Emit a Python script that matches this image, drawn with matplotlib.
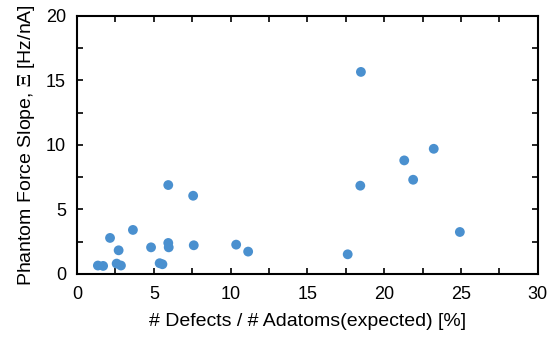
import matplotlib
matplotlib.use("Agg")
import matplotlib.pyplot as plt
import numpy as np

plt.rcParams['font.family'] = ['Liberation Sans', 'DejaVu Sans']
plt.rcParams['mathtext.fontset'] = 'stix'

# values
defects = [1.36, 1.70, 2.15, 2.71, 2.58, 2.86, 3.64, 4.82, 5.38, 5.56, 5.94, 5.94,
           5.97, 7.56, 7.60, 10.36, 11.14, 17.62, 18.48, 18.44, 21.30, 21.88, 23.22, 24.92]
slope = [0.65, 0.62, 2.79, 1.83, 0.80, 0.65, 3.41, 2.06, 0.83, 0.75, 6.89, 2.40,
         2.06, 6.06, 2.22, 2.27, 1.73, 1.52, 15.66, 6.84, 8.80, 7.30, 9.70, 3.25]

fig = plt.figure(figsize=(5.5, 3.39), dpi=100)
ax = fig.add_axes([0.14, 0.192, 0.838, 0.761])

ax.scatter(defects, slope, s=50, color="#4a90cf", edgecolors="none", zorder=3)

ax.set_xlim(0, 30)
ax.set_ylim(0, 20)
ax.set_xticks(np.arange(0, 31, 5))
ax.set_yticks(np.arange(0, 21, 5))
ax.set_xticks(np.arange(0, 30.1, 2.5), minor=True)
ax.set_yticks(np.arange(0, 20.1, 2.5), minor=True)
ax.tick_params(which="both", direction="in", top=True, right=True,
               length=4, width=1.2, labelsize=13)
ax.tick_params(axis="x", pad=9)
ax.tick_params(axis="y", pad=8)
for sp in ax.spines.values():
    sp.set_linewidth(1.5)

ax.set_xlabel("# Defects / # Adatoms(expected) [%]", fontsize=14, labelpad=7)
ax.set_ylabel(r"Phantom Force Slope, $\Xi$ [Hz/nA]", fontsize=14, labelpad=6)

fig.savefig("out.png", dpi=100)
